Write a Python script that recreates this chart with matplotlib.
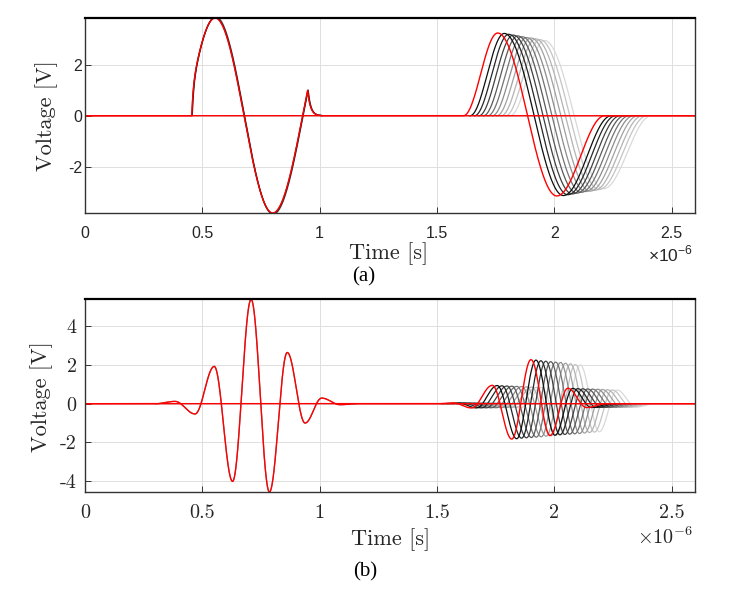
import numpy as np
import matplotlib.pyplot as plt
from matplotlib.ticker import FuncFormatter

plt.rcParams['mathtext.fontset'] = 'custom'
plt.rcParams['mathtext.rm'] = 'Liberation Sans'

# ---- data (time in microseconds, voltage in V) ----
# (a) excitation: start, peak, trough, cusp
exc_a_t = [0.455, 0.555, 0.800, 0.949]
exc_a_v = [0.0, 3.84, -3.82, 1.0]
exc_a_tail = 0.012          # decay constant after the cusp
exc_a_shift = [0.0, 0.0005, 0.001, 0.0015, 0.002, 0.0025]
exc_a_gain = [1.0, 1.003, 1.006, 1.009, 1.012, 1.015]

# (a) received echo, first (red) trace: turning points
echo_a_t = [1.613, 1.759, 2.011, 2.215]
echo_a_v = [0.0, 3.25, -3.15, 0.0]
echo_a_shift = [0.028, 0.047, 0.066, 0.085, 0.104, 0.123, 0.142, 0.161, 0.180, 0.199]
echo_a_gain = [0.995, 0.985, 0.975, 0.965, 0.955, 0.945, 0.94, 0.93, 0.92, 0.91]

# (b) excitation burst: turning points
exc_b_t = [0.30, 0.384, 0.469, 0.551, 0.629, 0.708, 0.786, 0.862, 0.938, 1.009, 1.087, 1.16]
exc_b_v = [0.0, 0.12, -0.53, 1.93, -4.02, 5.40, -4.57, 2.65, -1.0, 0.29, -0.05, 0.0]

# (b) received echo, first (red) trace: turning points
echo_b_t = [1.50, 1.57, 1.648, 1.736, 1.819, 1.901, 1.982, 2.058, 2.138, 2.22]
echo_b_v = [0.0, 0.04, -0.22, 0.95, -1.83, 2.28, -1.65, 0.80, -0.20, 0.0]
echo_b_shift = [0.021, 0.042, 0.063, 0.084, 0.105, 0.126, 0.147, 0.168, 0.189, 0.210]
echo_b_gain = [0.99, 0.975, 0.965, 0.955, 0.945, 0.935, 0.92, 0.905, 0.89, 0.88]

gray_levels = [0.05, 0.15, 0.25, 0.35, 0.45, 0.55, 0.63, 0.70, 0.77, 0.85]

xticks = [0, 0.5, 1, 1.5, 2, 2.5]
yticks_a = [-2, 0, 2]
yticks_b = [-4, -2, 0, 2, 4]

t = np.linspace(0, 2.6, 6000)


def through_extrema(t, kt, kv, fill=0.0):
    # half-cosine segments between the turning points
    y = np.full_like(t, fill)
    for t0, t1, v0, v1 in zip(kt[:-1], kt[1:], kv[:-1], kv[1:]):
        m = (t >= t0) & (t < t1)
        u = (t[m] - t0) / (t1 - t0)
        y[m] = v0 + (v1 - v0) * (1 - np.cos(np.pi * u)) / 2
    return y


def burst_a(t, fill=0.0):
    t0, tp, tt, tc = exc_a_t
    _, vp, vt, vc = exc_a_v
    y = np.full_like(t, fill)
    per = 2 * (tt - tp)
    m = (t >= t0) & (t < tp)
    y[m] = vp * np.cos(2 * np.pi * (t[m] - tp) / per) * (1 - np.exp(-(t[m] - t0) / 0.005))
    m = (t >= tp) & (t < tt)
    y[m] = vt + (vp - vt) * (1 + np.cos(np.pi * (t[m] - tp) / (tt - tp))) / 2
    m = (t >= tt) & (t < tc)
    th = np.arccos(vc / vt)
    y[m] = vt * np.cos(th * (t[m] - tt) / (tc - tt))
    m = (t >= tc) & (t < tc + 0.06)
    y[m] = vc * np.exp(-(t[m] - tc) / exc_a_tail)
    return y


fig = plt.figure(figsize=(7.33, 5.99), dpi=100)
ax_a = fig.add_axes([85 / 733, 1 - 213 / 599, 610 / 733, 195 / 599])
ax_b = fig.add_axes([85 / 733, 1 - 492 / 599, 610 / 733, 193 / 599])

# --- panel (a) ---
for s, g in zip(exc_a_shift, exc_a_gain):
    ax_a.plot(t, g * burst_a(t - s, np.nan), color='black', lw=0.9, alpha=0.35)
for s, g, c in zip(echo_a_shift[::-1], echo_a_gain[::-1], gray_levels[::-1]):
    ax_a.plot(t, g * through_extrema(t - s, echo_a_t, echo_a_v, np.nan), color=str(c), lw=0.9)
ax_a.plot(t, burst_a(t), color='red', lw=1.0)
ax_a.plot(t, through_extrema(t, echo_a_t, echo_a_v), color='red', lw=1.0)
ax_a.set_ylim(-3.82, 3.84)
ax_a.set_yticks(yticks_a)

# --- panel (b) ---
ax_b.plot(t, through_extrema(t, exc_b_t, exc_b_v, np.nan), color='black', lw=0.9, alpha=0.5)
for s, g, c in zip(echo_b_shift[::-1], echo_b_gain[::-1], gray_levels[::-1]):
    ax_b.plot(t, g * through_extrema(t - s, echo_b_t, echo_b_v, np.nan), color=str(c), lw=0.9)
ax_b.plot(t, through_extrema(t, exc_b_t, exc_b_v), color='red', lw=1.0)
ax_b.plot(t, through_extrema(t, echo_b_t, echo_b_v), color='red', lw=1.0)
ax_b.set_ylim(-4.57, 5.42)
ax_b.set_yticks(yticks_b)

fmt = FuncFormatter(lambda v, p: '%g' % v)
for ax in (ax_a, ax_b):
    ax.set_xlim(0, 2.6)
    ax.set_xticks(xticks)
    ax.xaxis.set_major_formatter(fmt)
    ax.yaxis.set_major_formatter(fmt)
    ax.grid(True, color='#dedede', lw=0.7)
    ax.set_axisbelow(True)
    for sp in ('left', 'right', 'bottom'):
        ax.spines[sp].set_color('#333333')
        ax.spines[sp].set_linewidth(1.0)
    ax.spines['top'].set_color('black')
    ax.spines['top'].set_linewidth(1.6)
    ax.tick_params(direction='in', length=4, width=0.7, color='#333333', labelcolor='#262626')

ax_a.tick_params(axis='x', pad=9)
ax_a.tick_params(axis='y', pad=2)
for lab in ax_a.get_xticklabels() + ax_a.get_yticklabels():
    lab.set_fontfamily('Liberation Sans')
    lab.set_fontsize(11.5)

ax_b.tick_params(axis='x', pad=9)
ax_b.tick_params(axis='y', pad=6)
for lab in ax_b.get_xticklabels() + ax_b.get_yticklabels():
    lab.set_fontfamily('cmr10')
    lab.set_fontsize(14.5)

# labels
def fx(px):
    return px / 733


def fy(py):
    return 1 - py / 599


lab_kw = dict(fontfamily='cmr10', fontsize=16, color='#262626')
fig.text(fx(46.5), fy(116), 'Voltage [V]', rotation=90, ha='center', va='center', **lab_kw)
fig.text(fx(389), fy(254), 'Time [s]', ha='center', va='center', **lab_kw)
fig.text(fx(41.5), fy(397), 'Voltage [V]', rotation=90, ha='center', va='center', **lab_kw)
fig.text(fx(391), fy(540), 'Time [s]', ha='center', va='center', **lab_kw)

fig.text(fx(693), fy(255), r'$\times10^{-6}$', ha='right', va='center', fontsize=12.5,
         color='#262626', math_fontfamily='custom')
fig.text(fx(693), fy(537), r'$\times10^{-6}$', ha='right', va='center', fontsize=14.5,
         color='#262626', math_fontfamily='cm')

fig.text(fx(364), fy(277), '(a)', ha='center', va='center', fontfamily='Liberation Serif',
         fontsize=15, color='black')
fig.text(fx(365.5), fy(572), '(b)', ha='center', va='center', fontfamily='Liberation Serif',
         fontsize=15, color='black')

fig.savefig('out.png', dpi=100)
